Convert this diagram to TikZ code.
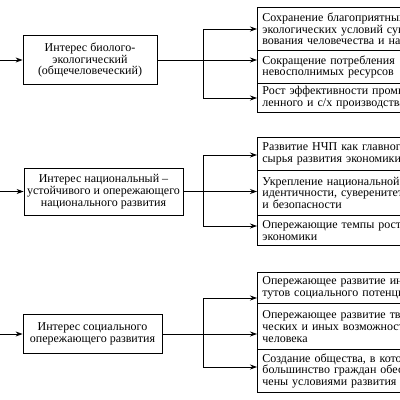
\documentclass[tikz,border=0pt]{standalone}
\usepackage{fontspec}
\setmainfont{Liberation Serif}
\usetikzlibrary{arrows.meta}

\tikzset{
    interest/.style={draw, line width=0.8pt, align=center, inner sep=2pt,
        font=\fontsize{12}{11.8}\selectfont},
    goal/.style={draw, line width=0.8pt, anchor=north west, align=left,
        text width=190pt, minimum width=200pt, inner sep=3pt,
        font=\fontsize{12}{11.8}\selectfont},
    arr/.style={line width=0.8pt, -{Stealth[length=7pt,width=5pt]}}
}

\begin{document}
\begin{tikzpicture}[x=1pt,y=-1pt]
        \useasboundingbox (0,0) rectangle (400,400);
        \clip (0,0) rectangle (400,400);

        % interests
        \node[interest, minimum width=134pt, minimum height=49pt] (i1) at (90,60)
            {Интерес биолого-\\экологический\\(общечеловеческий)};
        \node[interest, minimum width=159pt, minimum height=47pt] (i2) at (103.5,191.5)
            {Интерес национальный –\\устойчивого и опережающего\\национального развития};
        \node[interest, minimum width=139pt, minimum height=39pt] (i3) at (92.5,334)
            {Интерес социального\\опережающего развития};

        \coordinate (in1) at (0,60);
        \coordinate (in2) at (0,191.5);
        \coordinate (in3) at (0,334);
        \draw[arr] (in1) -- (i1.west);
        \draw[arr] (in2) -- (i2.west);
        \draw[arr] (in3) -- (i3.west);

        % goals, first group
        \node[goal, minimum height=43pt] (g1) at (257,7)
            {Сохранение благоприятных\\экологических условий существо-\\вования человечества и населения};
        \node[goal, minimum height=33pt] (g2) at (257,50)
            {Сокращение потребления\\невосполнимых ресурсов};
        \node[goal, minimum height=29pt] (g3) at (257,83)
            {Рост эффективности промыш-\\ленного и с/х производства};

        % goals, second group
        \node[goal, minimum height=33pt] (g4) at (257,137)
            {Развитие НЧП как главного\\сырья развития экономики};
        \node[goal, minimum height=45pt] (g5) at (257,170)
            {Укрепление национальной\\идентичности, суверенитета\\и безопасности};
        \node[goal, minimum height=30pt] (g6) at (257,215)
            {Опережающие темпы роста\\экономики};

        % goals, third group
        \node[goal, minimum height=31pt] (g7) at (257,272)
            {Опережающее развитие инсти-\\тутов социального потенциала};
        \node[goal, minimum height=46pt] (g8) at (257,303)
            {Опережающее развитие твор-\\ческих и иных возможностей\\человека};
        \node[goal, minimum height=43pt] (g9) at (257,349)
            {Создание общества, в котором\\большинство граждан обеспе-\\чены условиями развития};

        % branches
        \coordinate (t1) at (203,29);
        \coordinate (b1) at (203,98);
        \draw[line width=0.8pt] (t1) -- (b1);
        \draw[arr] (t1) -- (t1 -| g1.west);
        \draw[arr] (i1.east) -- (i1.east -| g2.west);
        \draw[arr] (b1) -- (b1 -| g3.west);

        \coordinate (t2) at (203,155);
        \coordinate (b2) at (203,226);
        \draw[line width=0.8pt] (t2) -- (b2);
        \draw[arr] (t2) -- (t2 -| g4.west);
        \draw[arr] (i2.east) -- (i2.east -| g5.west);
        \draw[arr] (b2) -- (b2 -| g6.west);

        \coordinate (t3) at (203,298);
        \coordinate (b3) at (203,367);
        \draw[line width=0.8pt] (t3) -- (b3);
        \draw[arr] (t3) -- (t3 -| g7.west);
        \draw[arr] (i3.east) -- (i3.east -| g8.west);
        \draw[arr] (b3) -- (b3 -| g9.west);
    \end{tikzpicture}
\end{document}
